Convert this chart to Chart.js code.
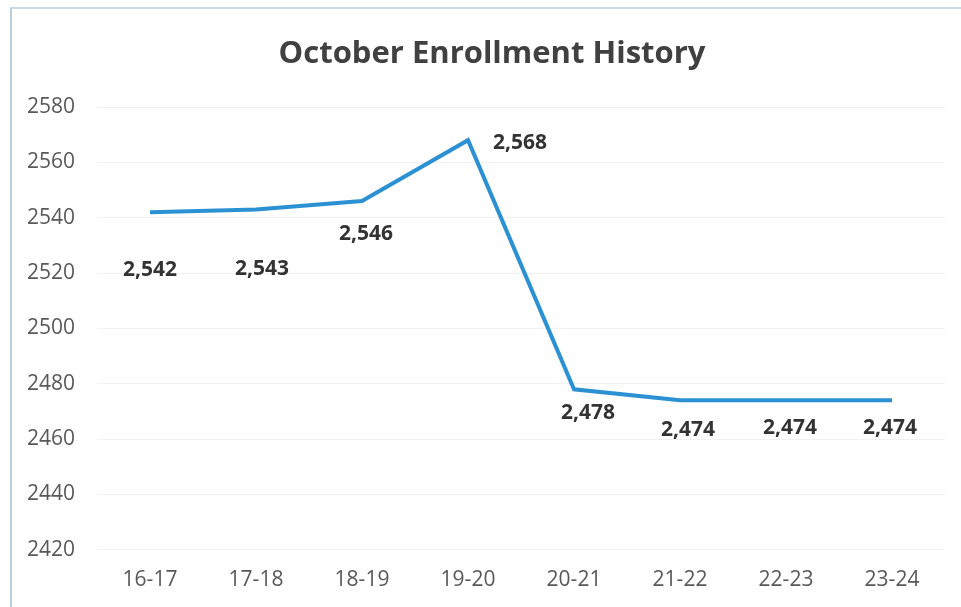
<!DOCTYPE html>
<html>
<head>
<meta charset="utf-8">
<script src="https://cdn.jsdelivr.net/npm/chart.js@4.4.1/dist/chart.umd.min.js"></script>
<style>
    html, body { margin: 0; padding: 0; background: #fff; }
    #wrap { position: absolute; left: 0; top: 0; width: 961px; height: 607px; }
    #frame { position: absolute; left: 10px; top: 7px; width: 960px; height: 610px;
             border-left: 2px solid #b9cfe0; border-top: 2px solid #c9d9e6; }
</style>
</head>
<body>
<div id="wrap">
    <div id="frame"></div>
    <canvas id="myChart" width="961" height="607"></canvas>
</div>
<script>
var titulo = "October Enrollment History";
var categorias = ["16-17", "17-18", "18-19", "19-20", "20-21", "21-22", "22-23", "23-24"];
var matricula = [2542, 2543, 2546, 2568, 2478, 2474, 2474, 2474];
var ticksY = [2420, 2440, 2460, 2480, 2500, 2520, 2540, 2560, 2580];

// where each label sits relative to its point (moved by hand in the original)
var desplazamientos = [
    [0, 58], [6, 60], [4, 33], [52, 3], [14, 24], [8, 30], [4, 28], [-2, 28]
];

var etiquetas = {
    id: "etiquetas",
    afterDatasetsDraw: function (chart) {
        var ctx = chart.ctx;
        var meta = chart.getDatasetMeta(0);
        ctx.save();
        ctx.font = "bold 21px 'Open Sans', sans-serif";
        ctx.fillStyle = "#333333";
        ctx.textAlign = "center";
        ctx.textBaseline = "middle";
        meta.data.forEach(function (p, i) {
            var d = desplazamientos[i];
            ctx.fillText(matricula[i].toLocaleString("en-US"), p.x + d[0], p.y + d[1]);
        });
        // the title sits a little left of the canvas centre in the original
        ctx.font = "bold 31px 'Open Sans', sans-serif";
        ctx.fillStyle = "#404040";
        ctx.fillText(titulo, 492, 54);
        ctx.restore();
    }
};

document.addEventListener("DOMContentLoaded", iniciar);

function iniciar() {
    var canvas = document.getElementById("myChart");
    new Chart(canvas, {
        type: "line",
        data: {
            labels: categorias,
            datasets: [{
                label: "Enrollment",
                data: matricula,
                borderColor: "#2b91d3",
                borderWidth: 4,
                pointRadius: 0,
                tension: 0
            }]
        },
        options: {
            responsive: false,
            animation: false,
            layout: { padding: { left: 0, right: 16, top: 107, bottom: 4 } },
            plugins: {
                legend: { display: false },
                tooltip: { enabled: false },
                title: { display: false }
            },
            scales: {
                x: {
                    offset: true,
                    grid: { display: false },
                    border: { display: false },
                    ticks: { color: "#595959", font: { family: "'Open Sans', sans-serif", size: 21 }, padding: 10 }
                },
                y: {
                    min: 2420,
                    max: 2580,
                    afterBuildTicks: function (s) { s.ticks = ticksY.map(function (v) { return { value: v }; }); },
                    afterFit: function (s) { s.width = 97; },
                    grid: { color: "#f1f1f1", drawTicks: false },
                    border: { display: false },
                    ticks: {
                        color: "#595959",
                        font: { family: "'Open Sans', sans-serif", size: 21 },
                        padding: 22,
                        callback: function (v) { return String(v); }
                    }
                }
            }
        },
        plugins: [etiquetas]
    });
}
</script>
</body>
</html>
